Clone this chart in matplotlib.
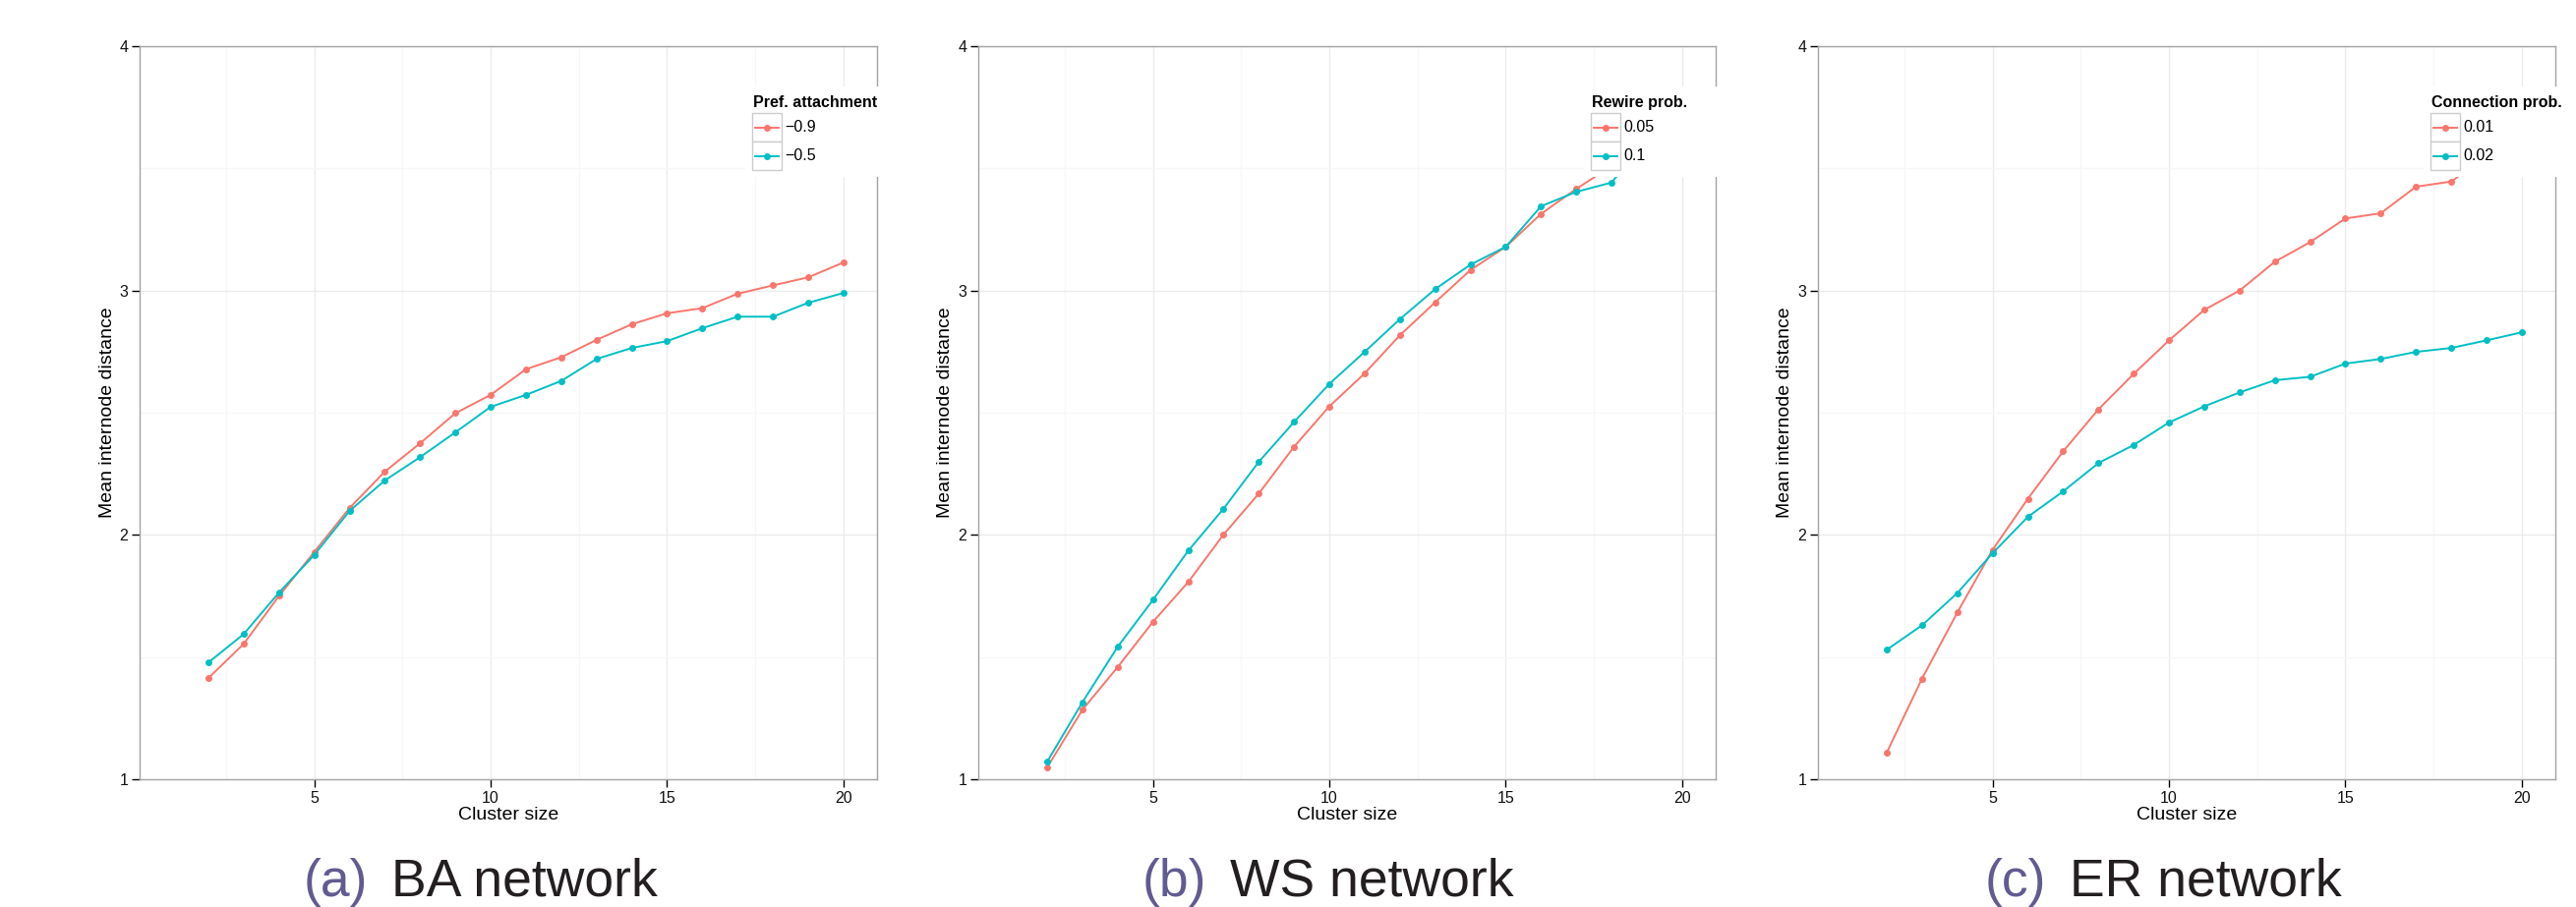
import matplotlib
matplotlib.use("Agg")
import matplotlib.pyplot as plt
from matplotlib.patches import Rectangle
from matplotlib.lines import Line2D

plt.rcParams["font.family"] = ["Liberation Sans", "DejaVu Sans"]
plt.rcParams["axes.unicode_minus"] = True

# data
cluster_size = list(range(2, 21))

ba_m09 = [1.414, 1.554, 1.750, 1.930, 2.110, 2.259, 2.375, 2.498, 2.573, 2.678,
          2.727, 2.798, 2.862, 2.907, 2.928, 2.987, 3.021, 3.054, 3.115]
ba_m05 = [1.478, 1.594, 1.764, 1.918, 2.098, 2.223, 2.318, 2.420, 2.524, 2.573,
          2.630, 2.720, 2.765, 2.793, 2.846, 2.893, 2.893, 2.950, 2.990]

ws_005 = [1.048, 1.284, 1.459, 1.644, 1.807, 2.001, 2.169, 2.361, 2.526, 2.661,
          2.817, 2.952, 3.084, 3.179, 3.314, 3.416, 3.51, 3.62, 3.72]
ws_01 = [1.071, 1.315, 1.542, 1.734, 1.935, 2.107, 2.299, 2.462, 2.618, 2.749,
         2.883, 3.006, 3.106, 3.179, 3.345, 3.404, 3.442, 3.62, 3.74]

er_001 = [1.109, 1.412, 1.682, 1.939, 2.148, 2.342, 2.514, 2.659, 2.796, 2.921,
          3.000, 3.118, 3.198, 3.295, 3.316, 3.425, 3.446, 3.55, 3.64]
er_002 = [1.530, 1.630, 1.762, 1.925, 2.074, 2.178, 2.294, 2.368, 2.460, 2.526,
          2.583, 2.633, 2.647, 2.701, 2.720, 2.749, 2.765, 2.796, 2.829]

panels = [
    ("(a)", "BA network", "Pref. attachment", ["\u22120.9", "\u22120.5"], ba_m09, ba_m05),
    ("(b)", "WS network", "Rewire prob.", ["0.05", "0.1"], ws_005, ws_01),
    ("(c)", "ER network", "Connection prob.", ["0.01", "0.02"], er_001, er_002),
]

x_ticks = [5, 10, 15, 20]
y_ticks = [1, 2, 3, 4]

RED = "#F8766D"
CYAN = "#00BFC4"
W, H = 2620, 923
fig = plt.figure(figsize=(W / 100, H / 100), dpi=100)

# panel frames in pixels: left edges, width, top, bottom
lefts = [142, 995, 1849]
pw = 750
top, bottom = 47, 793

# overlay for legends and captions, in pixel coords (y down)
over = fig.add_axes([0, 0, 1, 1], zorder=10)
over.set_xlim(0, W)
over.set_ylim(H, 0)
over.axis("off")

for left, (tag, name, ltitle, llabels, s1, s2) in zip(lefts, panels):
    ax = fig.add_axes([left / W, 1 - bottom / H, pw / W, (bottom - top) / H])
    ax.set_xlim(0.05, 20.95)
    ax.set_ylim(1, 4)
    ax.set_xticks(x_ticks)
    ax.set_yticks(y_ticks)
    ax.set_xticks([2.5, 7.5, 12.5, 17.5], minor=True)
    ax.set_yticks([1.5, 2.5, 3.5], minor=True)
    ax.grid(which="major", color="#EBEBEB", linewidth=1.0)
    ax.grid(which="minor", color="#F7F7F7", linewidth=1.0)
    ax.set_axisbelow(True)
    for sp in ax.spines.values():
        sp.set_color("#A3A3A3")
        sp.set_linewidth(1.0)
    ax.tick_params(which="major", length=5.8, width=1.0, color="black",
                   labelsize=11.5, labelcolor="#111111", pad=2.5)
    ax.tick_params(which="minor", length=0)

    for vals, col in ((s1, RED), (s2, CYAN)):
        ax.plot(cluster_size, vals, color=col, linewidth=1.4, marker="o",
                markersize=5, markeredgewidth=0, zorder=3)

    ax.set_xlabel("Cluster size", fontsize=14)
    ax.xaxis.set_label_coords(0.5, -36 / (bottom - top))
    ax.xaxis.label.set_verticalalignment("center")
    ax.set_ylabel("Mean internode distance", fontsize=14)
    ax.yaxis.set_label_coords(-33 / pw, 0.5)
    ax.yaxis.label.set_verticalalignment("center")

    # legend drawn on the overlay, ggplot style
    ox = left + pw - 134
    over.add_patch(Rectangle((ox, 88), 160, 92, facecolor="white", edgecolor="none"))
    over.text(ox + 8, 109, ltitle, fontsize=11.5, fontweight="bold", va="baseline", ha="left")
    for i, (lab, col) in enumerate(zip(llabels, (RED, CYAN))):
        y0 = 115 + 29 * i
        over.add_patch(Rectangle((ox + 7, y0), 30, 29, facecolor="white",
                                 edgecolor="#CCCCCC", linewidth=1.0))
        yc = y0 + 14.5
        over.add_line(Line2D([ox + 10, ox + 34], [yc, yc], color=col, linewidth=1.4))
        over.plot([ox + 22], [yc], marker="o", color=col, markersize=5, markeredgewidth=0)
        over.text(ox + 40, yc, lab, fontsize=11.5, va="center", ha="left")

    # caption
    pc = left + pw / 2
    over.text(pc - 143, 912, tag, fontsize=38.5, color="#615B92", ha="right", va="baseline")
    over.text(pc - 119, 912, name, fontsize=38.5, color="#231F20", ha="left", va="baseline")

fig.savefig("out.png", dpi=100)
